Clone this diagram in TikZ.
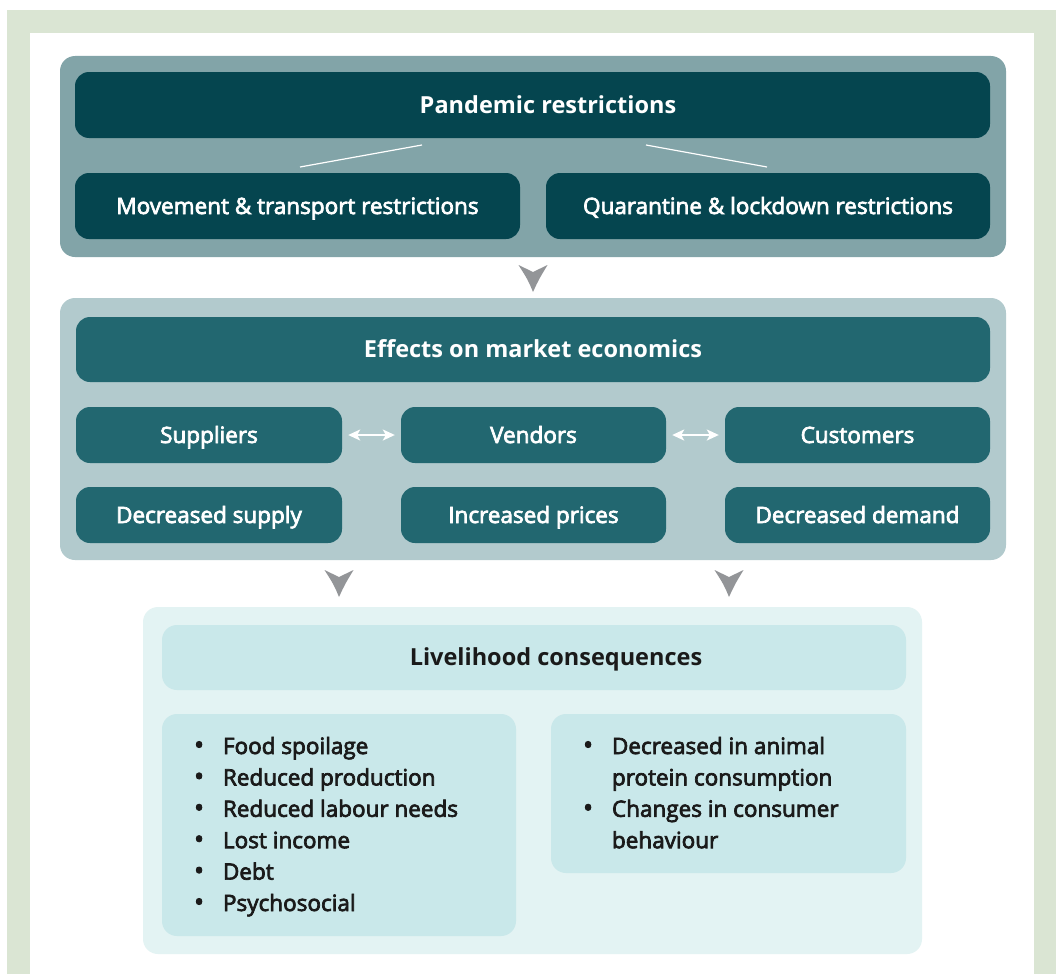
\documentclass[tikz,border=0pt]{standalone}
\usepackage{fontspec}
\setmainfont{Open Sans}
\newfontfamily\semib{Open Sans}[FakeBold=3.2]
\usetikzlibrary{arrows.meta}
\definecolor{framegreen}{HTML}{DAE5D3}
\definecolor{panelA}{HTML}{82A4A8}
\definecolor{boxA}{HTML}{05454F}
\definecolor{panelB}{HTML}{B2CACD}
\definecolor{boxB}{HTML}{226770}
\definecolor{panelC}{HTML}{E3F3F3}
\definecolor{boxC}{HTML}{C9E8EA}
\definecolor{arrowgray}{HTML}{939598}
\definecolor{txtdark}{HTML}{1A1A1A}
\tikzset{
  panel/.style={rounded corners=15pt, inner sep=0pt, draw=none},
  dbox/.style={rounded corners=14pt, inner sep=0pt, text=white, text height=21pt, text depth=5pt, font=\semib\fontsize{22.5}{26}\selectfont},
  tbox/.style={dbox, font=\bfseries\fontsize{23.5}{27}\selectfont},
  dblarrow/.style={white, line width=2pt, {Stealth[length=12pt,width=11pt,inset=3pt]}-{Stealth[length=12pt,width=11pt,inset=3pt]}},
  listtext/.style={inner sep=0pt, text=txtdark, font=\semib\fontsize{22.5}{31.4}\selectfont}
}
\newcommand{\downhead}[2]{%
  \fill[arrowgray] (#1,#2) .. controls ++(-5,-12) .. ++(-14.5,-27) .. controls ++(7,4) .. ++(14.5,7) .. controls ++(7,-3) .. ++(14.5,-7) .. controls ++(-9,15) .. cycle;}
\newcommand{\bul}{{\fontsize{26}{26}\selectfont•}}
\begin{document}
\begin{tikzpicture}[x=1pt,y=-1pt]
\useasboundingbox (0,0) rectangle (1056,974);
% frame
\fill[framegreen] (7,10) rectangle (1056,974);
\fill[white] (30,33) rectangle (1034,974);

% panel 1
\node[panel, fill=panelA, minimum width=946pt, minimum height=201pt] (p1) at (533,156.5) {};
\node[tbox, fill=boxA, minimum width=915pt, minimum height=66pt] (pan) at (532.5,105) {\hspace*{31pt}Pandemic restrictions};
\node[dbox, fill=boxA, minimum width=445pt, minimum height=66pt] (mov) at (297.5,206) {Movement \& transport restrictions};
\node[dbox, fill=boxA, minimum width=444pt, minimum height=66pt] (qua) at (768,206) {Quarantine \& lockdown restrictions};
\coordinate (l1a) at (300,167); \coordinate (l1b) at (422,145);
\coordinate (l2a) at (646,145); \coordinate (l2b) at (767,167);
\draw[white, line width=1.2pt] (l1a) -- (l1b);
\draw[white, line width=1.2pt] (l2a) -- (l2b);

% arrow 1
\downhead{533}{292}

% panel 2
\node[panel, fill=panelB, minimum width=946pt, minimum height=262pt] (p2) at (533,429) {};
\node[tbox, fill=boxB, minimum width=914pt, minimum height=65pt] (eff) at (533,349.5) {Effects on market economics};
\node[dbox, fill=boxB, minimum width=266pt, minimum height=56pt] (sup) at (209,435) {Suppliers};
\node[dbox, fill=boxB, minimum width=265pt, minimum height=56pt] (ven) at (533.5,435) {Vendors};
\node[dbox, fill=boxB, minimum width=265pt, minimum height=56pt] (cus) at (857.5,435) {Customers};
\node[dbox, fill=boxB, minimum width=266pt, minimum height=56pt] (dsu) at (209,515) {Decreased supply};
\node[dbox, fill=boxB, minimum width=265pt, minimum height=56pt] (ipr) at (533.5,515) {Increased prices};
\node[dbox, fill=boxB, minimum width=265pt, minimum height=56pt] (dde) at (857.5,515) {Decreased demand};
\draw[dblarrow] ([xshift=6pt]sup.east) -- ([xshift=-6pt]ven.west);
\draw[dblarrow] ([xshift=6pt]ven.east) -- ([xshift=-6pt]cus.west);

% arrows 2
\downhead{339}{597}
\downhead{729}{597}

% panel 3
\node[panel, fill=panelC, minimum width=779pt, minimum height=347pt] (p3) at (532.5,780.5) {};
\node[panel, fill=boxC, minimum width=744pt, minimum height=65pt, text=txtdark, text height=21pt, text depth=5pt, font=\bfseries\fontsize{23.5}{27}\selectfont] (liv) at (534,657.5) {\hspace*{44pt}Livelihood consequences};
\node[panel, fill=boxC, minimum width=354pt, minimum height=222pt] (lbox) at (339,825) {};
\node[panel, fill=boxC, minimum width=355pt, minimum height=159pt] (rbox) at (728.5,793.5) {};
\node[listtext, anchor=base west] (llist) at (194,754) {%
  \begin{tabular}[t]{@{}l@{\hspace{19pt}}l@{}}
  \bul & Food spoilage\\
  \bul & Reduced production\\
  \bul & Reduced labour needs\\
  \bul & Lost income\\
  \bul & Debt\\
  \bul & Psychosocial
  \end{tabular}};
\node[listtext, anchor=base west] (rlist) at (583,754) {%
  \begin{tabular}[t]{@{}l@{\hspace{19pt}}l@{}}
  \bul & Decreased in animal\\
    & protein consumption\\
  \bul & Changes in consumer\\
    & behaviour
  \end{tabular}};
\end{tikzpicture}
\end{document}
